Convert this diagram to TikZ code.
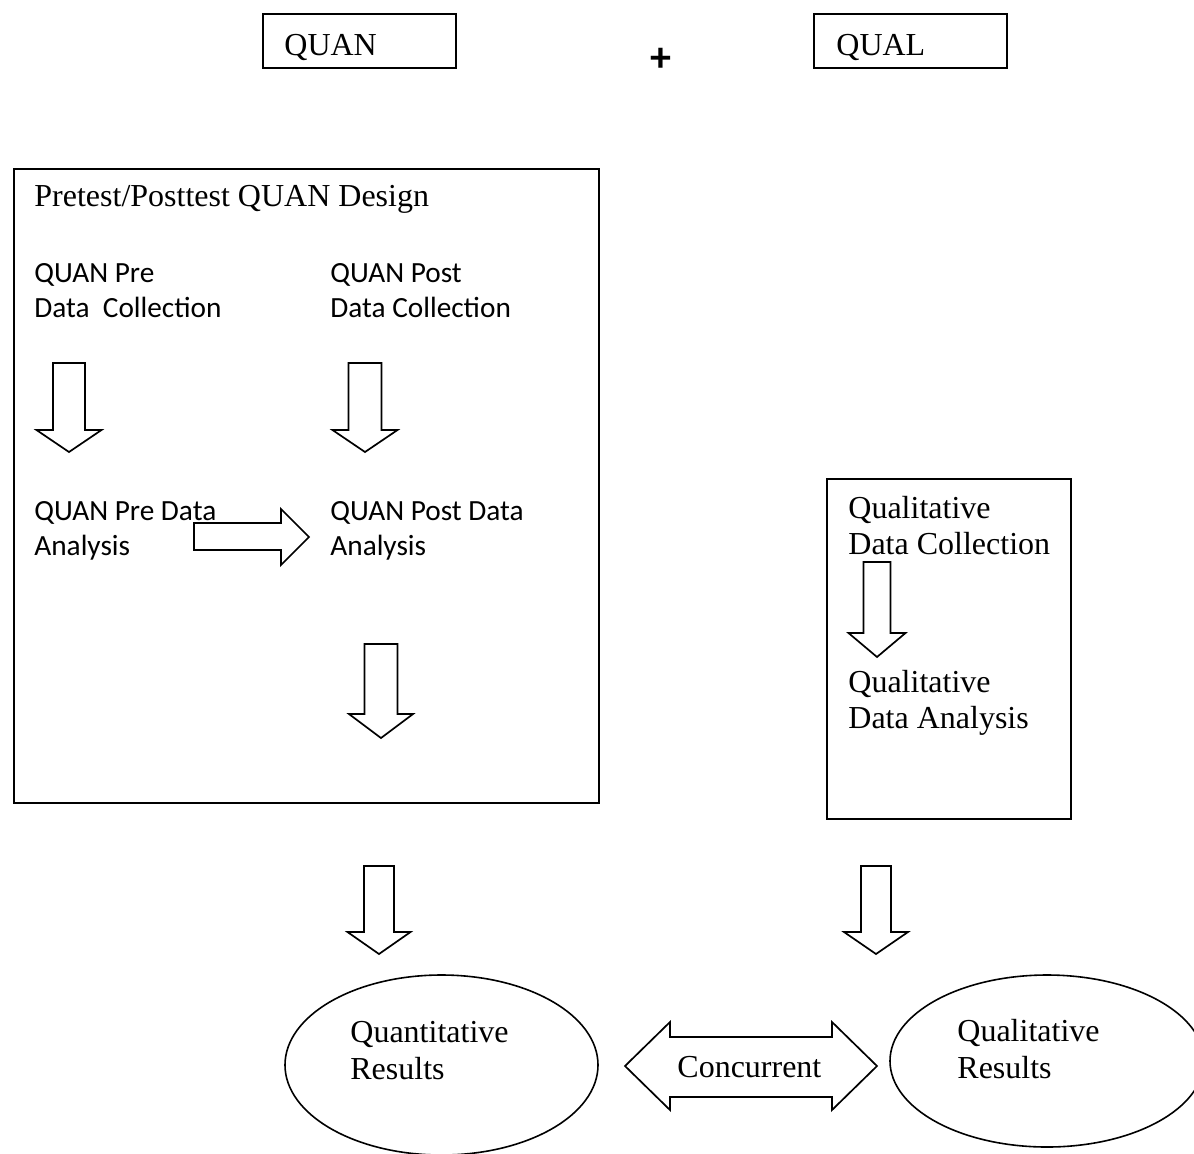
\documentclass[tikz,border=0pt]{standalone}
\usepackage{fontspec}
\setmainfont{Liberation Serif}
\newfontfamily\calib{Carlito}
\usetikzlibrary{shapes.geometric}
\newcommand\downblock[6]{% x, top, shoulder, tip, shaft half, head half
  \draw[blk] ({#1-#5},#2) -- ({#1+#5},#2) -- ({#1+#5},#3) -- ({#1+#6},#3) -- (#1,#4)
    -- ({#1-#6},#3) -- ({#1-#5},#3) -- cycle;}
\begin{document}
\begin{tikzpicture}[x=0.5pt,y=-0.5pt,
  tr/.style={font=\fontsize{16}{18}\selectfont, anchor=base west, inner sep=0},
  cb/.style={font=\calib\fontsize{14.65}{17.5}\selectfont, anchor=base west, inner sep=0},
  frame/.style={draw, line width=1pt, anchor=north west, inner sep=0},
  blk/.style={draw, line width=0.85pt, line join=miter},
  oval/.style={draw, ellipse, line width=0.8pt, inner sep=0}]
\useasboundingbox (0,0) rectangle (1194,1153);
\clip (0,0) rectangle (1194,1153);

% top boxes
\node[frame, minimum width=96.5pt, minimum height=27pt] (quanbox) at (262,13) {};
\node[tr] (quan) at (284,55) {QUAN};
\node[font=\calib\bfseries\fontsize{21}{22}\selectfont, inner sep=0] (plus) at (661,60) {+};
\node[frame, minimum width=96.5pt, minimum height=27pt] (qualbox) at (813,13) {};
\node[tr] (qual) at (836,55) {QUAL};

% big QUAN design box
\node[frame, minimum width=292.5pt, minimum height=317pt] (design) at (13,168) {};
\node[tr] (designtitle) at (34,206) {Pretest/Posttest QUAN Design};
\node[cb] (pre1) at (34,282) {QUAN Pre};
\node[cb] (pre2) at (34,317) {Data\ \ Collection};
\node[cb] (post1) at (330,282) {QUAN Post};
\node[cb] (post2) at (330,317) {Data Collection};
\node[cb] (prea1) at (34,520) {QUAN Pre Data};
\node[cb] (prea2) at (34,555) {Analysis};
\node[cb] (posta1) at (330,520) {QUAN Post Data};
\node[cb] (posta2) at (330,555) {Analysis};

\downblock{69}{363}{430}{452}{16}{32.5}
\downblock{365}{363}{430}{452}{16.5}{32.5}
\downblock{381}{644}{714}{738}{16.5}{32}
\draw[blk] (194,523) -- (281,523) -- (281,509) -- (309,537) -- (281,565) -- (281,550) -- (194,550) -- cycle;

% qualitative box
\node[frame, minimum width=122pt, minimum height=170pt] (qualdesign) at (826,478) {};
\node[tr] (qc1) at (848,518) {Qualitative};
\node[tr] (qc2) at (848,554) {Data Collection};
\node[tr] (qa1) at (848,692) {Qualitative};
\node[tr] (qa2) at (848,728) {Data Analysis};
\downblock{877}{562}{633}{657}{13.5}{28.5}

% arrows to results
\downblock{379}{866}{932}{954}{15}{31.5}
\downblock{876}{866}{932}{954}{15}{32}

% results
\node[oval, minimum width=156.5pt, minimum height=90pt] (quantres) at (441.5,1065) {};
\node[tr] (qr1) at (350,1042) {Quantitative};
\node[tr] (qr2) at (350,1079) {Results};
\node[oval, minimum width=157pt, minimum height=86pt] (qualres) at (1047,1061) {};
\node[tr] (lr1) at (957,1041) {Qualitative};
\node[tr] (lr2) at (957,1078) {Results};

\draw[blk] (625,1066) -- (670,1022) -- (670,1037) -- (832,1037) -- (832,1022) -- (877,1066)
  -- (832,1110) -- (832,1097) -- (670,1097) -- (670,1110) -- cycle;
\node[tr] (conc) at (677,1077) {Concurrent};
\end{tikzpicture}
\end{document}
